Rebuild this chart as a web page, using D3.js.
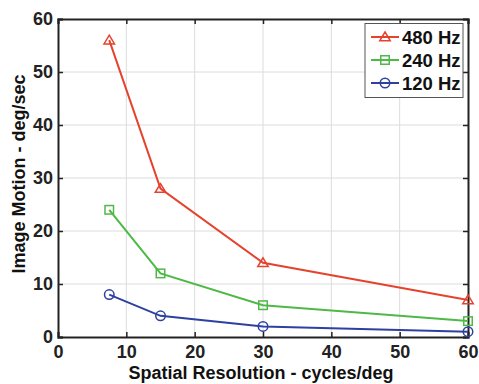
<!DOCTYPE html>
<html><head><meta charset="utf-8">
<script src="https://cdn.jsdelivr.net/npm/d3@7"></script>
<style>body{margin:0;background:#fff}svg{display:block}text{font-family:"Liberation Sans",Arial,sans-serif;font-weight:bold}</style>
</head><body>
<svg id="c" width="479" height="384"></svg>
<script>
const xValues = [7.5, 15, 30, 60];
const hz480 = [56, 28, 14, 7];
const hz240 = [24, 12, 6, 3];
const hz120 = [8, 4, 2, 1];
const seriesNames = ["480 Hz", "240 Hz", "120 Hz"];
const xTicks = [0, 10, 20, 30, 40, 50, 60];
const yTicks = [0, 10, 20, 30, 40, 50, 60];

const series = [
  {name: seriesNames[0], vals: hz480, color: "#e5432d", marker: "tri"},
  {name: seriesNames[1], vals: hz240, color: "#4fb948", marker: "sq"},
  {name: seriesNames[2], vals: hz120, color: "#2e40a0", marker: "circ"}
];

const svg = d3.select("#c");
const m = {l: 58, r: 468, t: 19, b: 337};
const x = d3.scaleLinear().domain([0, 60]).range([m.l, m.r]);
const y = d3.scaleLinear().domain([0, 60]).range([m.b, m.t]);

// grid
const g = svg.append("g");
g.selectAll(".gx").data(xTicks.slice(1, -1)).enter().append("line")
  .attr("x1", d => x(d)).attr("x2", d => x(d)).attr("y1", m.t).attr("y2", m.b)
  .attr("stroke", "#dcdcdc").attr("stroke-width", 1);
g.selectAll(".gy").data(yTicks.slice(1, -1)).enter().append("line")
  .attr("y1", d => y(d)).attr("y2", d => y(d)).attr("x1", m.l).attr("x2", m.r)
  .attr("stroke", "#dcdcdc").attr("stroke-width", 1);

// axes
const ax = svg.append("g").attr("transform", `translate(0,${m.b})`)
  .call(d3.axisBottom(x).tickValues(xTicks).tickSize(-5).tickPadding(8).tickFormat(d3.format("d")));
const axT = svg.append("g").attr("transform", `translate(0,${m.t})`)
  .call(d3.axisTop(x).tickValues(xTicks).tickSize(-5).tickFormat(""));
const ay = svg.append("g").attr("transform", `translate(${m.l},0)`)
  .call(d3.axisLeft(y).tickValues(yTicks).tickSize(-5).tickPadding(5).tickFormat(d3.format("d")));
const ayR = svg.append("g").attr("transform", `translate(${m.r},0)`)
  .call(d3.axisRight(y).tickValues(yTicks).tickSize(-5).tickFormat(""));
[ax, axT, ay, ayR].forEach(a => {
  a.select(".domain").attr("stroke", "#222").attr("stroke-width", 2);
  a.selectAll(".tick line").attr("stroke", "#222").attr("stroke-width", 1.5);
  a.selectAll("text").attr("font-size", 18).attr("fill", "#222")
   .attr("font-family", "Liberation Sans, Arial, sans-serif").attr("font-weight", "bold");
});
ax.selectAll(".tick text").attr("dy", "0.72em");

// markers
function marker(sel, type, color, s) {
  if (type === "tri") {
    sel.append("path").attr("d", `M0,${-s}L${s*1.05},${s*0.75}L${-s*1.05},${s*0.75}Z`)
      .attr("fill", "none").attr("stroke", color).attr("stroke-width", 1.5);
  } else if (type === "sq") {
    sel.append("rect").attr("x", -s*0.85).attr("y", -s*0.85).attr("width", s*1.7).attr("height", s*1.7)
      .attr("fill", "none").attr("stroke", color).attr("stroke-width", 1.5);
  } else {
    sel.append("circle").attr("r", s*0.95).attr("fill", "none").attr("stroke", color).attr("stroke-width", 1.5);
  }
}

const line = d3.line().x(d => x(d[0])).y(d => y(d[1]));
series.forEach(s => {
  const pts = xValues.map((v, i) => [v, s.vals[i]]);
  svg.append("path").datum(pts).attr("d", line).attr("fill", "none")
    .attr("stroke", s.color).attr("stroke-width", 2);
  pts.forEach(p => {
    const mg = svg.append("g").attr("transform", `translate(${x(p[0])},${y(p[1])})`);
    marker(mg, s.marker, s.color, 5);
  });
});

// legend
const lg = svg.append("g");
lg.append("rect").attr("x", 365).attr("y", 23.5).attr("width", 98).attr("height", 74)
  .attr("fill", "#fff").attr("stroke", "#555").attr("stroke-width", 1);
series.forEach((s, i) => {
  const yy = 37 + i * 23;
  lg.append("line").attr("x1", 371).attr("x2", 399).attr("y1", yy).attr("y2", yy)
    .attr("stroke", s.color).attr("stroke-width", 2);
  const mg = lg.append("g").attr("transform", `translate(385,${yy})`);
  marker(mg, s.marker, s.color, 5);
  lg.append("text").attr("x", 402).attr("y", yy).attr("dy", "0.36em")
    .attr("font-size", 18.5).attr("fill", "#111").text(s.name);
});

// axis titles
svg.append("text").attr("x", 261).attr("y", 379).attr("text-anchor", "middle")
  .attr("font-size", 18).attr("fill", "#111").text("Spatial Resolution - cycles/deg");
svg.append("text").attr("transform", `translate(25,${(m.t + m.b) / 2 - 4}) rotate(-90)`)
  .attr("text-anchor", "middle").attr("font-size", 18).attr("fill", "#111").text("Image Motion - deg/sec");
</script>
</body></html>
